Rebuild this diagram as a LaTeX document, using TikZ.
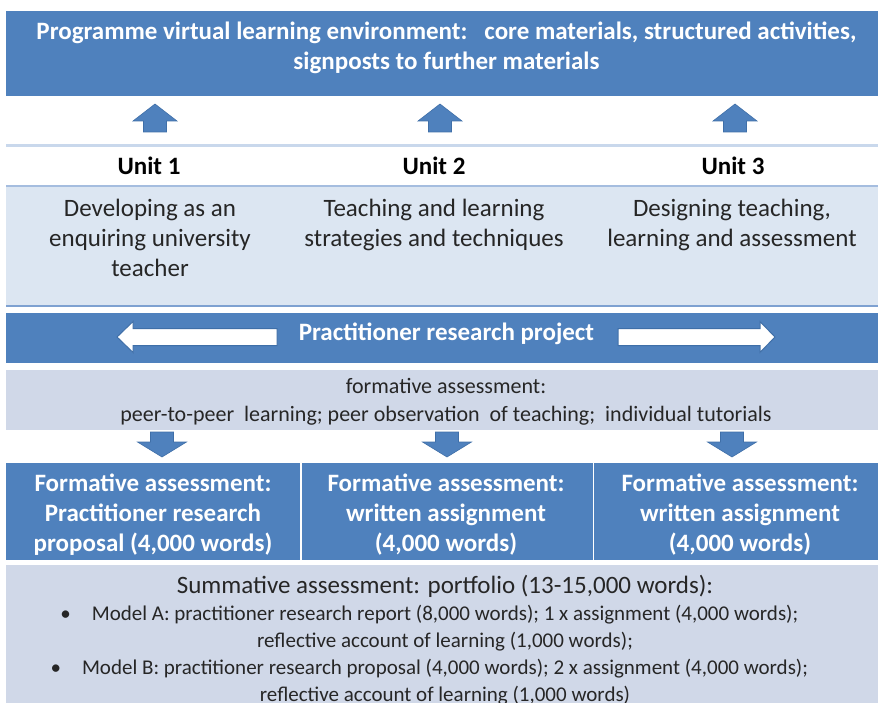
\documentclass[tikz,border=0pt]{standalone}
\usepackage{fontspec}
\setmainfont{Carlito}
\definecolor{dblue}{HTML}{4F81BD}
\definecolor{lblue}{HTML}{DCE6F2}
\definecolor{gblue}{HTML}{D0D8E8}
\definecolor{lineblue}{HTML}{7EA1D1}
\definecolor{paleline}{HTML}{C9D8EC}
\definecolor{arrline}{HTML}{3F6FA8}
\definecolor{txt}{HTML}{262626}
\begin{document}
\begin{tikzpicture}[x=1pt,y=-1pt,
  panel/.style={draw=none, anchor=north west, inner sep=0pt, outer sep=0pt},
  wtitle/.style={text=white, font=\bfseries\fontsize{25}{30}\selectfont, align=center, inner sep=0pt},
  unitlbl/.style={text=black, font=\bfseries\fontsize{25}{30}\selectfont, inner sep=0pt},
  desc/.style={text=txt, font=\fontsize{25}{30}\selectfont, align=center, inner sep=0pt},
  small/.style={text=txt, font=\fontsize{22}{28}\selectfont, align=center, inner sep=0pt},
  formbox/.style={text=white, font=\bfseries\fontsize{25}{30}\selectfont, align=center, inner sep=0pt},
  summ/.style={text=txt, font=\fontsize{21}{27}\selectfont, align=center, inner sep=0pt},
  uparr/.pic={\fill[dblue, draw=arrline, line width=0.6pt] (0,0) -- (22,17) -- (11.5,17) -- (11.5,28) -- (-11.5,28) -- (-11.5,17) -- (-22,17) -- cycle;},
  downarr/.pic={\fill[dblue, draw=arrline, line width=0.6pt] (-11.5,0) -- (11.5,0) -- (11.5,10) -- (24.5,10) -- (0,25) -- (-24.5,10) -- (-11.5,10) -- cycle;}
]
\useasboundingbox (0,0) rectangle (878,703);
\fill[white] (0,0) rectangle (878,703);

% top box
\node[panel, fill=dblue, minimum width=872pt, minimum height=85pt] (vle) at (6,11) {};
\node[wtitle] (vletxt) at (446.5,48) {Programme virtual learning environment:\ \ \ core materials, structured activities,\\ signposts to further materials};

% up arrows
\pic at (155,104) {uparr};
\pic at (440,104) {uparr};
\pic at (735,104) {uparr};

% unit row lines
\fill[paleline] (6,144) rectangle (878,147);
\node[panel, fill=lblue, minimum width=872pt, minimum height=120pt] (descbox) at (6,186) {};
\fill[lineblue!70] (6,185) rectangle (878,187);
\fill[lineblue] (6,305) rectangle (878,307);

\node[unitlbl] (u1) at (149,166) {Unit 1};
\node[unitlbl] (u2) at (434,166) {Unit 2};
\node[unitlbl] (u3) at (733,166) {Unit 3};

\node[desc, anchor=north] (d1) at (150,199) {Developing as an\\ enquiring university\\ teacher};
\node[desc, anchor=north] (d2) at (434,199) {Teaching and learning\\ strategies and techniques};
\node[desc, anchor=north] (d3) at (732,199) {Designing teaching,\\ learning and assessment};

% practitioner research project
\node[panel, fill=dblue, minimum width=872pt, minimum height=50pt] (prp) at (6,313) {};
\node[wtitle] (prptxt) at (446.5,334) {Practitioner research project};
\fill[white, draw=arrline, line width=1pt] (117,337) -- (133,321.5) -- (133,328.5) -- (277,328.5) -- (277,345.5) -- (133,345.5) -- (133,352.5) -- cycle;
\fill[white, draw=arrline, line width=1pt] (775,337) -- (760,321.5) -- (760,328.5) -- (618,328.5) -- (618,345.5) -- (760,345.5) -- (760,352.5) -- cycle;

% formative assessment band
\node[panel, fill=gblue, minimum width=872pt, minimum height=60pt] (fa) at (6,370) {};
\node[small] (fatxt) at (446,402) {formative assessment:\\ peer-to-peer\ \ learning; peer observation\ \ of teaching;\ \ individual tutorials};

% down arrows
\pic at (162,432) {downarr};
\pic at (447,432) {downarr};
\pic at (732,432) {downarr};

% formative boxes
\node[panel, fill=dblue, minimum width=294pt, minimum height=97pt] (f1) at (6,463) {};
\node[panel, fill=dblue, minimum width=291pt, minimum height=97pt] (f2) at (302,463) {};
\node[panel, fill=dblue, minimum width=284pt, minimum height=97pt] (f3) at (594,463) {};
\node[formbox] (f1txt) at (153,515) {Formative assessment:\\ Practitioner research\\ proposal (4,000 words)};
\node[formbox] (f2txt) at (446,515) {Formative assessment:\\ written assignment\\ (4,000 words)};
\node[formbox] (f3txt) at (740,515) {Formative assessment:\\ written assignment\\ (4,000 words)};

% summative
\node[panel, fill=gblue, minimum width=872pt, minimum height=140pt] (sum) at (6,565) {};
\node[summ, anchor=north] (sumtxt) at (445,575) {{\fontsize{25}{28}\selectfont Summative assessment: portfolio (13-15,000 words):}\\
\llap{\textbullet\hspace{21pt}}Model A: practitioner research report (8,000 words); 1 x assignment (4,000 words);\\
reflective account of learning (1,000 words);\\
\llap{\textbullet\hspace{21pt}}Model B: practitioner research proposal (4,000 words); 2 x assignment (4,000 words);\\
reflective account of learning (1,000 words)};
\end{tikzpicture}
\end{document}
